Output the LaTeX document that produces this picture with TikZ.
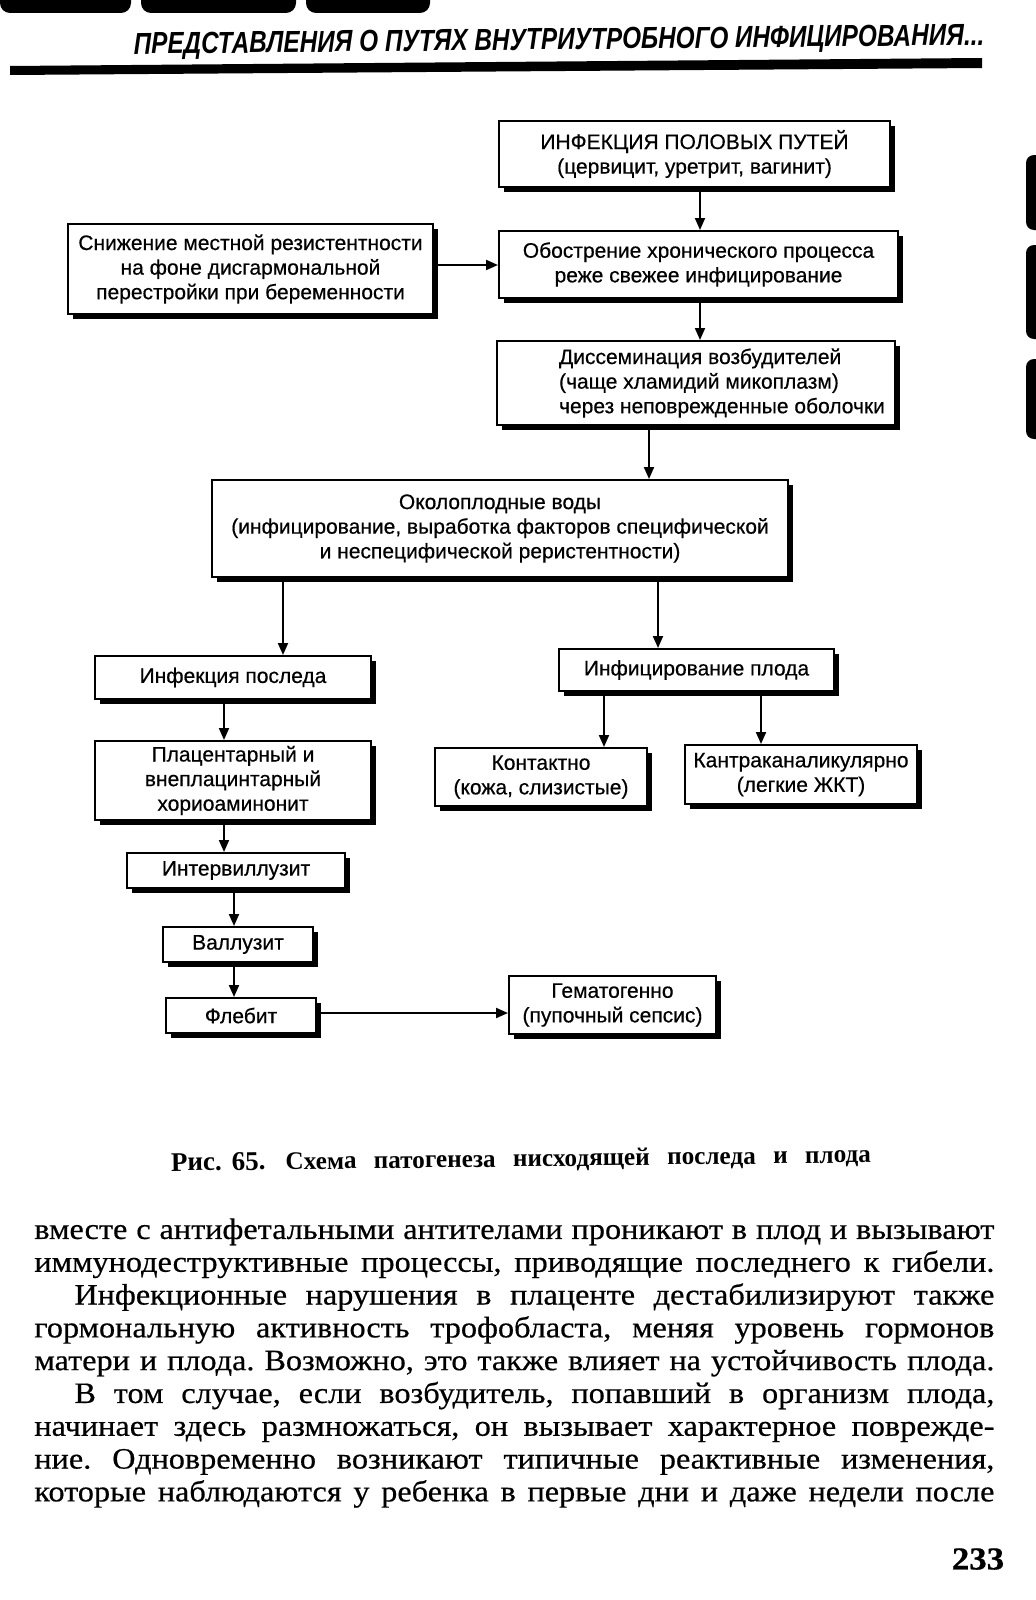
\documentclass[tikz,border=0pt]{standalone}
\usepackage{fontspec}
\setmainfont{Liberation Serif}
\newfontfamily\boxfont[FakeBold=0.5]{Liberation Sans}
\newfontfamily\headfont[FakeStretch=0.8]{Liberation Sans}
\newfontfamily\bodyfont[FakeStretch=1.09, FakeBold=0.5]{Liberation Serif}
\usetikzlibrary{arrows.meta, shadows}
\frenchspacing

\begin{document}
\begin{tikzpicture}[x=0.5pt, y=-0.5pt,
    blk/.style={draw, line width=1pt, fill=white, inner xsep=2pt, inner ysep=1pt,
      drop shadow={shadow xshift=2.5pt, shadow yshift=-2.5pt, opacity=1, fill=black},
      font=\boxfont\fontsize{10.5}{12.3}\selectfont, align=center},
    arr/.style={line width=1pt, -{Triangle[length=6pt, width=5pt]}}]
      \useasboundingbox (0,0) rectangle (1035,1600);
      \fill[white] (0,0) rectangle (1035,1600);

      % Thumb tabs
      \fill[rounded corners=5pt] (0,-20) rectangle (131,13);
      \fill[rounded corners=5pt] (141,-20) rectangle (296,13);
      \fill[rounded corners=5pt] (306,-20) rectangle (430,13);
      \fill[rounded corners=4pt] (1026,155) rectangle (1050,230);
      \fill[rounded corners=4pt] (1026,245) rectangle (1050,339);
      \fill[rounded corners=4pt] (1026,359) rectangle (1050,439);

      % Running head
      \node[font=\headfont\bfseries\itshape\fontsize{15.2}{17}\selectfont, rotate=0.6] (head) at (559,42)
        {ПРЕДСТАВЛЕНИЯ О ПУТЯХ ВНУТРИУТРОБНОГО ИНФИЦИРОВАНИЯ...};
      \fill (10,66) -- (982,58) -- (982,68) -- (10,75) -- cycle;

      % Boxes
      \node[blk, minimum width=195.5pt, minimum height=33pt] (genital) at (694.5,154)
        {ИНФЕКЦИЯ ПОЛОВЫХ ПУТЕЙ\\(цервицит, уретрит, вагинит)};
      \node[blk, minimum width=182.5pt, minimum height=45pt] (resist) at (250.5,269)
        {Снижение местной резистентности\\на фоне дисгармональной\\перестройки при беременности};
      \node[blk, minimum width=199.5pt, minimum height=33.5pt] (exacerb) at (698.5,264.5)
        {Обострение хронического процесса\\реже свежее инфицирование};
      \node[blk, minimum width=199pt, minimum height=42pt, align=left] (dissem) at (696,383)
        {\hspace*{26pt}Диссеминация возбудителей\\\hspace*{26pt}(чаще хламидий микоплазм)\\
         \hspace*{26pt}через неповрежденные оболочки};
      \node[blk, minimum width=288pt, minimum height=48.5pt] (fluid) at (500,528.5)
        {Околоплодные воды\\(инфицирование, выработка факторов специфической\\и неспецифической реристентности)};
      \node[blk, minimum width=138pt, minimum height=21.5pt] (afterbirth) at (233,677.5) {Инфекция последа};
      \node[blk, minimum width=137.5pt, minimum height=21pt] (fetus) at (696.5,670) {Инфицирование плода};
      \node[blk, minimum width=138pt, minimum height=39.5pt] (chorio) at (233,780.5)
        {Плацентарный и\\внеплацинтарный\\хориоаминонит};
      \node[blk, minimum width=106pt, minimum height=29pt] (contact) at (541,777)
        {Контактно\\(кожа, слизистые)};
      \node[blk, minimum width=116pt, minimum height=29.5pt] (canal) at (801,774.5)
        {Кантраканаликулярно\\(легкие ЖКТ)};
      \node[blk, minimum width=109pt, minimum height=17.5pt] (intervill) at (236,870.5) {Интервиллузит};
      \node[blk, minimum width=75pt, minimum height=17.5pt] (vill) at (238,944.5) {Валлузит};
      \node[blk, minimum width=75pt, minimum height=17.5pt] (phleb) at (241,1015.5) {Флебит};
      \node[blk, minimum width=103.5pt, minimum height=29pt] (hemat) at (612.5,1005)
        {Гематогенно\\(пупочный сепсис)};

      % Arrows
      \draw[arr] (genital.south -| 700,0) -- (exacerb.north -| 700,0);
      \draw[arr] (resist.east |- 0,265) -- (exacerb.west |- 0,265);
      \draw[arr] (exacerb.south -| 700,0) -- (dissem.north -| 700,0);
      \draw[arr] (dissem.south -| 649,0) -- (fluid.north -| 649,0);
      \draw[arr] (fluid.south -| 283,0) -- (afterbirth.north -| 283,0);
      \draw[arr] (fluid.south -| 658,0) -- (fetus.north -| 658,0);
      \draw[arr] (afterbirth.south -| 224,0) -- (chorio.north -| 224,0);
      \draw[arr] (fetus.south -| 604,0) -- (contact.north -| 604,0);
      \draw[arr] (fetus.south -| 761,0) -- (canal.north -| 761,0);
      \draw[arr] (chorio.south -| 224,0) -- (intervill.north -| 224,0);
      \draw[arr] (intervill.south -| 234,0) -- (vill.north -| 234,0);
      \draw[arr] (vill.south -| 234,0) -- (phleb.north -| 234,0);
      \draw[arr] (phleb.east |- 0,1013) -- (hemat.west |- 0,1013);

      % Caption
      \node[font=\bfseries\fontsize{12.6}{14}\selectfont, rotate=0.7] (caption) at (521,1160)
        {\makebox[350pt][s]{{\fontsize{13.5}{15}\selectfont Рис.\kern5pt 65.}\kern10pt Схема патогенеза нисходящей последа и плода}};

      % Body text
      \node[font=\bodyfont\fontsize{14.8}{16.4}\selectfont, text width=480pt, align=justify,
        inner sep=0pt, anchor=north west] (body) at (34,1218)
        {\lineskiplimit=-30pt\parfillskip=0pt
         вместе с антифетальными антителами проникают в плод и вызывают\linebreak
         иммунодеструктивные процессы, приводящие последнего к гибели.\linebreak
         \hspace*{20pt}Инфекционные нарушения в плаценте дестабилизируют также\linebreak
         гормональную активность трофобласта, меняя уровень гормонов\linebreak
         матери и плода. Возможно, это также влияет на устойчивость плода.\linebreak
         \hspace*{20pt}В том случае, если возбудитель, попавший в организм плода,\linebreak
         начинает здесь размножаться, он вызывает характерное поврежде-\linebreak
         ние. Одновременно возникают типичные реактивные изменения,\linebreak
         которые наблюдаются у ребенка в первые дни и даже недели после\par};

      % Page number
      \node[font=\bodyfont\bfseries\fontsize{16}{18}\selectfont] (page) at (978,1559) {233};
    \end{tikzpicture}
\end{document}
